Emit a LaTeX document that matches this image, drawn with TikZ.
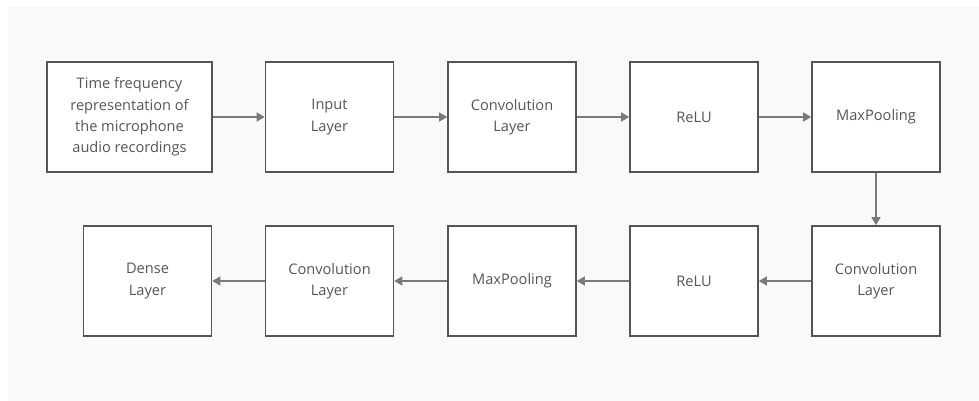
\documentclass[tikz,border=0pt]{standalone}
\usepackage{fontspec}
\setmainfont{Open Sans}
\usetikzlibrary{arrows.meta}
\definecolor{bgfill}{HTML}{F9F9F9}
\definecolor{boxline}{HTML}{555555}
\definecolor{arrowline}{HTML}{7A7A7A}
\definecolor{labeltext}{HTML}{555555}
\begin{document}
\begin{tikzpicture}[x=1pt,y=-1pt,
  layerbox/.style={draw=boxline, line width=1.6pt, fill=white, inner sep=0pt,
    align=center, text=labeltext, font=\fontsize{14.6}{21.3}\selectfont,
    minimum height=110pt},
  wide/.style={minimum width=165pt},
  narrow/.style={minimum width=128pt},
  flow/.style={draw=arrowline, line width=1.4pt,
    -{Triangle[length=8pt,width=9pt]}}]
\useasboundingbox (0,0) rectangle (979,401);
\fill[white] (0,0) rectangle (979,401);
\fill[bgfill] (8,7) rectangle (979,401);

% top row
\node[layerbox, wide]   (tf)    at (129.5,117) {Time frequency\\representation of\\the microphone\\audio recordings};
\node[layerbox, narrow] (inp)   at (329.5,117) {Input\\Layer};
\node[layerbox, narrow] (conv1) at (512,117)   {Convolution\\Layer};
\node[layerbox, narrow] (relu1) at (694,117)   {ReLU};
\node[layerbox, narrow] (pool1) at (876,117)   {MaxPooling};

% bottom row
\node[layerbox, narrow] (conv2) at (876,281)   {Convolution\\Layer};
\node[layerbox, narrow] (relu2) at (694,281)   {ReLU};
\node[layerbox, narrow] (pool2) at (512,281)   {MaxPooling};
\node[layerbox, narrow] (conv3) at (329.5,281) {Convolution\\Layer};
\node[layerbox, narrow] (dense) at (147.5,281) {Dense\\Layer};

% connectors
\draw[flow] (tf) -- (inp);
\draw[flow] (inp) -- (conv1);
\draw[flow] (conv1) -- (relu1);
\draw[flow] (relu1) -- (pool1);
\draw[flow] (pool1) -- (conv2);
\draw[flow] (conv2) -- (relu2);
\draw[flow] (relu2) -- (pool2);
\draw[flow] (pool2) -- (conv3);
\draw[flow] (conv3) -- (dense);
\end{tikzpicture}
\end{document}
